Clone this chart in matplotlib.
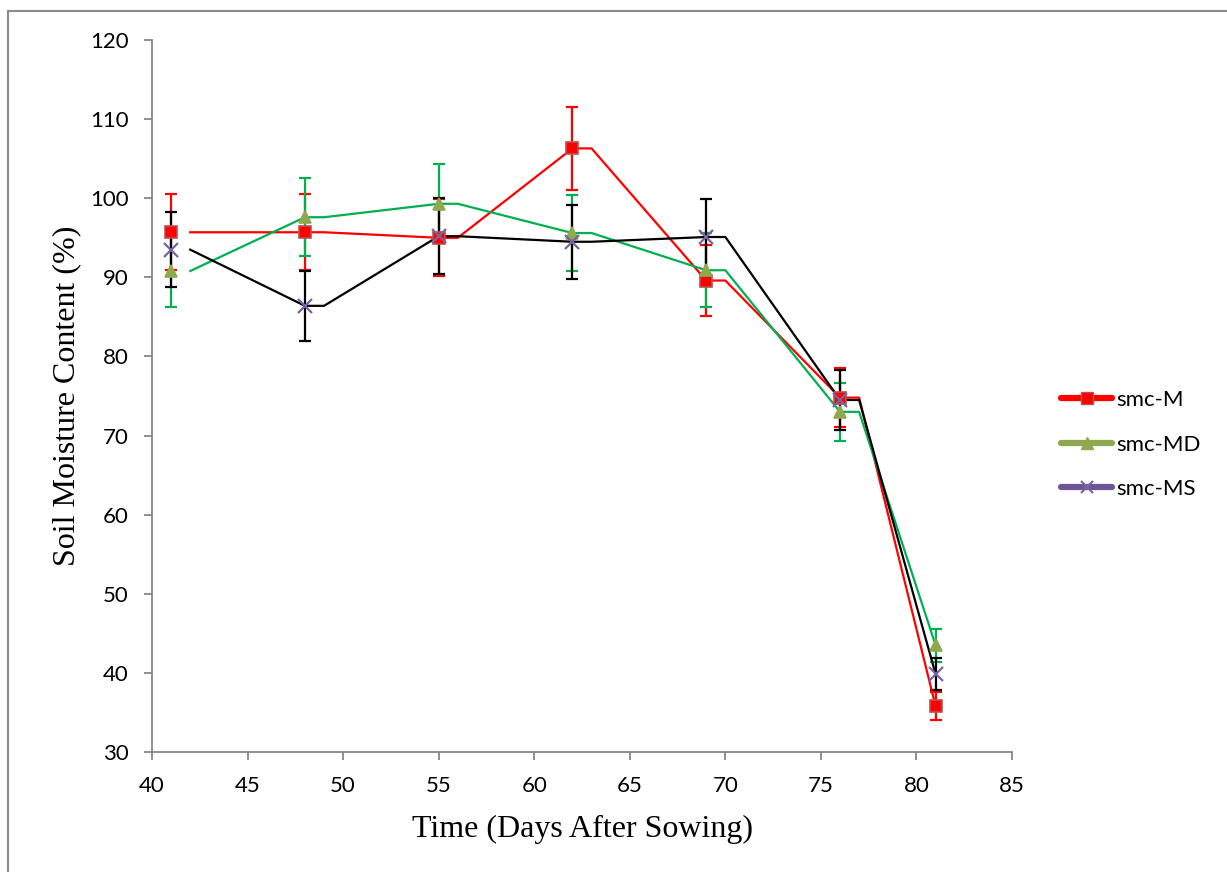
import matplotlib.pyplot as plt
from matplotlib.lines import Line2D
import numpy as np

# sampling days (days after sowing)
days = [41, 48, 55, 62, 69, 76, 81]
# the connecting lines are drawn one day after each reading
line_days = [42, 48, 49, 55, 56, 62, 63, 69, 70, 76, 77, 81]

smc_m = [95.7, 95.7, 95.0, 106.3, 89.6, 74.8, 35.8]
smc_m_err = [4.8, 4.8, 4.85, 5.25, 4.5, 3.75, 1.8]

smc_md = [90.8, 97.6, 99.3, 95.6, 90.9, 73.0, 43.5]
smc_md_err = [4.5, 4.9, 5.0, 4.8, 4.7, 3.7, 2.1]

smc_ms = [93.5, 86.4, 95.2, 94.5, 95.1, 74.5, 39.85]
smc_ms_err = [4.7, 4.45, 4.8, 4.7, 4.8, 3.75, 2.0]


def line_values(vals):
    # first value, then every later value twice (reading day and day after), last once
    out = [vals[0]]
    for v in vals[1:-1]:
        out += [v, v]
    out.append(vals[-1])
    return out


series = [
    # label, values, errors, line/errbar colour, marker, marker face, marker edge, legend colour
    ("smc-M", smc_m, smc_m_err, "#FF0000", "s", "#FF0000", "#B7524F", "#FF0000"),
    ("smc-MD", smc_md, smc_md_err, "#00B050", "^", "#8FAA4E", "#8FAA4E", "#8FAA4E"),
    ("smc-MS", smc_ms, smc_ms_err, "#000000", "x", "#7A62A0", "#7A62A0", "#6F5596"),
]

fig = plt.figure(figsize=(12.27, 8.72), dpi=100)
ax = fig.add_axes([0.1239, 0.1376, 0.7009, 0.8165])

for label, vals, errs, col, mk, mface, medge, lcol in series:
    ax.errorbar(days, vals, yerr=errs, fmt="none", ecolor=col, elinewidth=1.6,
                capsize=4, capthick=1.6, zorder=2)
for label, vals, errs, col, mk, mface, medge, lcol in series:
    ax.plot(line_days, line_values(vals), color=col, lw=1.6, zorder=3)
for label, vals, errs, col, mk, mface, medge, lcol in series:
    if mk == "x":
        ax.plot(days, vals, ls="none", marker=mk, ms=10, mew=1.6,
                color=mface, zorder=4)
    else:
        ax.plot(days, vals, ls="none", marker=mk, ms=9, mfc=mface,
                mec=medge, mew=1.2, zorder=4)

ax.set_xlim(40, 85)
ax.set_ylim(30, 120)
ax.set_xticks(np.arange(40, 86, 5))
ax.set_yticks(np.arange(30, 121, 10))

for side in ["top", "right"]:
    ax.spines[side].set_visible(False)
for side in ["left", "bottom"]:
    ax.spines[side].set_color("#868686")
    ax.spines[side].set_linewidth(1.3)
ax.tick_params(axis="both", direction="out", length=6, width=1.3,
               color="#868686", labelsize=16)
ax.tick_params(axis="x", pad=11)
ax.tick_params(axis="y", pad=11)
for lab in ax.get_xticklabels() + ax.get_yticklabels():
    lab.set_family("Lato")

ax.set_xlabel("Time (Days After Sowing)", family="Liberation Serif",
              fontsize=23, labelpad=14)
ax.set_ylabel("Soil Moisture Content (%)", family="Liberation Serif",
              fontsize=23, labelpad=6)

handles = []
for label, vals, errs, col, mk, mface, medge, lcol in series:
    if mk == "x":
        h = Line2D([], [], color=lcol, lw=4.5, marker=mk, ms=9, mew=1.5,
                   mec=mface, solid_capstyle="round")
    else:
        h = Line2D([], [], color=lcol, lw=4.5, marker=mk, ms=9, mfc=mface,
                   mec=medge, solid_capstyle="round")
    handles.append(h)
fig.legend(handles, [s[0] for s in series], loc="center left",
           bbox_to_anchor=(0.865, 0.49), frameon=False, borderaxespad=0.0,
           borderpad=0.0, prop={"family": "Lato", "size": 16},
           handlelength=2.3, handletextpad=0.15, labelspacing=1.1)

# chart border
fig.add_artist(Line2D([0.0068, 0.0068], [0.0, 0.9875], color="#8A8A8A",
                      lw=1.5, transform=fig.transFigure))
fig.add_artist(Line2D([0.0068, 1.0], [0.9875, 0.9875], color="#8A8A8A",
                      lw=1.5, transform=fig.transFigure))

fig.savefig("out.png", dpi=100)
